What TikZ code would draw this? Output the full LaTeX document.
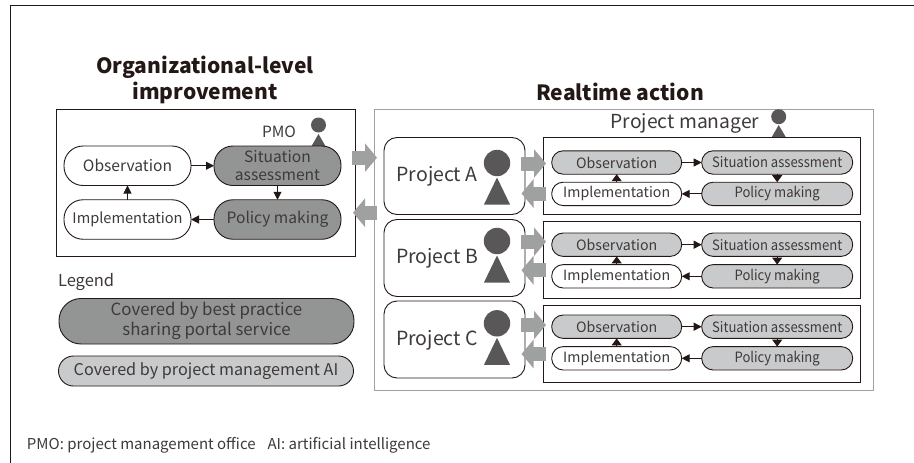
\documentclass[tikz,border=0pt]{standalone}
\usepackage{fontspec}
\setmainfont{Noto Sans CJK JP}
\newfontfamily\condfont[FakeStretch=0.92]{Noto Sans CJK JP}
\usetikzlibrary{arrows.meta,shapes.geometric,calc}
\definecolor{ink}{HTML}{231815}
\definecolor{txt}{HTML}{3E3A39}
\definecolor{darkpill}{HTML}{939594}
\definecolor{lightpill}{HTML}{C9CACB}
\definecolor{person}{HTML}{595757}
\definecolor{fatgray}{HTML}{9FA0A0}
\tikzset{
  x=1pt,y=-1pt,
  every node/.style={text=txt,inner sep=0pt,outer sep=0pt},
  pill/.style={draw=ink,line width=0.9pt,rounded corners=#1,align=center},
  pill/.default=19pt,
  bigpill/.style={pill=19pt,minimum width=127pt,minimum height=39.5pt,font=\fontsize{15.6}{17.7}\selectfont},
  smallpill/.style={pill=11.5pt,minimum height=23.4pt},
  leftpill/.style={smallpill,minimum width=130pt,font=\fontsize{14.2}{16}\selectfont},
  rightpill/.style={smallpill,minimum width=151pt,font=\condfont\fontsize{14.2}{15}\selectfont},
  framebox/.style={draw=ink,line width=0.9pt},
  projbox/.style={draw=ink,line width=0.9pt,rounded corners=13pt,minimum width=141pt,minimum height=77pt},
  flow/.style={draw=ink,line width=1pt,-{Triangle[length=8pt,width=8pt]}},
  shortflow/.style={draw=ink,line width=1pt,-{Triangle[length=7pt,width=10pt]}},
  fat/.style={draw=fatgray,line width=14pt,-{Triangle[length=12pt,width=28pt,fill=fatgray]}},
  title/.style={font=\fontsize{21}{26}\selectfont\bfseries,text=ink,align=center},
  label/.style={font=\fontsize{15.5}{18}\selectfont},
  body/.style={fill=person},
}
% suffix, proj top, inner top, obs y, imp y, head y, fat right y, fat left y
\newcommand{\projrow}[8]{%
  \node[projbox,anchor=north] (proj#1) at (454.5,#2) {};
  \node[framebox,anchor=north,minimum width=317.2pt,minimum height=77pt] (inner#1) at (702.1,#3) {};
  \node[leftpill,fill=lightpill] (obs#1) at (616.7,#4) {Observation};
  \node[rightpill,fill=lightpill] (sit#1) at (777.2,#4) {Situation assessment};
  \node[leftpill,fill=white] (imp#1) at (616.7,#5) {Implementation};
  \node[rightpill,fill=lightpill] (pol#1) at (777.2,#5) {Policy making};
  \node[font=\fontsize{19.5}{22}\selectfont] (plabel#1) at (437,#2+39) {Project #1};
  \fill[person] (497,#6) circle (13.2);
  \fill[body] (497,#6+14.5) -- (510,#6+41.5) -- (484,#6+41.5) -- cycle;
  \draw[flow] (obs#1) -- (sit#1);
  \draw[flow] (pol#1) -- (imp#1);
  \draw[shortflow] (sit#1) -- (pol#1);
  \draw[shortflow] (imp#1) -- (obs#1);
  \draw[fat] (521,#7) -- (546,#7);
  \draw[fat] (546,#8) -- (521.5,#8);
}
\begin{document}
\begin{tikzpicture}
\useasboundingbox (0,0) rectangle (914,463);
\fill[white] (0,0) rectangle (914,463);
\draw[ink,line width=1pt] (914,5.5) -- (10.5,5.5) -- (10.5,463);

\node[title] (t1) at (205,80) {Organizational-level\\improvement};
\node[title] (t2) at (620,92) {Realtime action};

% left panel
\node[framebox,minimum width=298.5pt,minimum height=146.7pt] (leftbox) at (205.75,182.75) {};
\node[label] (pmo) at (279,132) {PMO};
\fill[body] (318.5,134) -- (326,147) -- (311,147) -- cycle;
\fill[person] (318.5,125) circle (7.5);
\node[bigpill,fill=white] (lobs) at (127.5,165.75) {Observation};
\node[bigpill,fill=darkpill] (lsit) at (277.5,165.75) {Situation\\assessment};
\node[bigpill,fill=white,font=\fontsize{14.6}{17}\selectfont] (limp) at (127.5,219.5) {Implementation};
\node[bigpill,fill=darkpill] (lpol) at (277.5,219.5) {Policy making};
\draw[flow] (lobs) -- (lsit);
\draw[flow] (lsit) -- (lpol);
\draw[flow] (lpol) -- (limp);
\draw[flow] (limp) -- (lobs);
\draw[fat] (352,157.7) -- (377,157.7);
\draw[fat] (377,212.7) -- (353,212.7);

% right panel
\node[draw=fatgray,line width=1pt,minimum width=499pt,minimum height=281pt] (rightbox) at (623.5,249.5) {};
\node[font=\fontsize{19.3}{22}\selectfont] (pm) at (685,123) {Project manager};
\fill[body] (778.7,125) -- (786,137.5) -- (771.5,137.5) -- cycle;
\fill[person] (778.7,116.7) circle (7.5);
\projrow{A}{137.5}{137.5}{162.5}{193.9}{163}{163.5}{193.5}
\projrow{B}{219.5}{221.7}{244.7}{276.3}{241}{241.7}{270.3}
\projrow{C}{301}{305}{326.7}{358.3}{323.3}{325}{354}

% legend
\node[font=\fontsize{16.5}{18}\selectfont,anchor=west] (leg) at (58,282) {Legend};
\node[pill=22pt,fill=darkpill,minimum width=295pt,minimum height=45.5pt,font=\fontsize{16.8}{20}\selectfont] (l1) at (206.5,321.25) {Covered by best practice\\sharing portal service};
\node[pill=15pt,fill=lightpill,minimum width=295pt,minimum height=30pt,font=\fontsize{16.2}{18}\selectfont] (l2) at (206,371) {Covered by project management AI};
\node[anchor=west,font=\fontsize{15}{17}\selectfont] (foot) at (27,445) {PMO: project management office\hspace{0.8em}AI: artificial intelligence};
\end{tikzpicture}
\end{document}
